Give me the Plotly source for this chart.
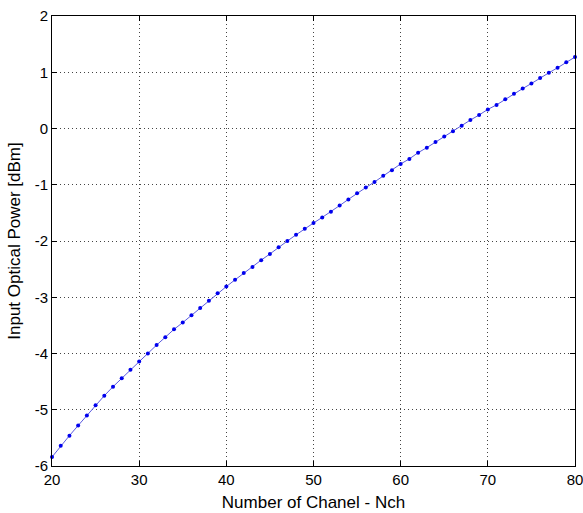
import plotly.graph_objects as go

nch = list(range(20, 81))
power_dbm = [
    -5.84, -5.64, -5.46, -5.28, -5.10, -4.92, -4.75, -4.59, -4.44, -4.29,
    -4.14, -4.00, -3.85, -3.71, -3.57, -3.45, -3.32, -3.19, -3.06, -2.93,
    -2.81, -2.69, -2.57, -2.46, -2.34, -2.23, -2.11, -2.00, -1.89, -1.78,
    -1.68, -1.58, -1.48, -1.37, -1.26, -1.15, -1.05, -0.95, -0.84, -0.74,
    -0.63, -0.54, -0.43, -0.34, -0.24, -0.14, -0.05, 0.05, 0.15, 0.24,
    0.34, 0.42, 0.52, 0.62, 0.71, 0.80, 0.90, 0.99, 1.08, 1.18, 1.27,
]
x_ticks = [20, 30, 40, 50, 60, 70, 80]
y_ticks = [-6, -5, -4, -3, -2, -1, 0, 1, 2]

FONT = "Liberation Sans, Arial"

fig = go.Figure()
fig.add_trace(go.Scatter(
    x=nch, y=power_dbm, mode="lines+markers",
    line=dict(color="#5a5ae0", width=1),
    marker=dict(color="#0000ee", size=4),
    showlegend=False, cliponaxis=False,
))

axis_common = dict(
    showline=True, linecolor="black", linewidth=1, mirror="ticks",
    ticks="inside", ticklen=5, tickcolor="black",
    showgrid=True, gridcolor="#444444", gridwidth=1, griddash="1px,3px",
    zeroline=False, automargin=False, ticklabeloverflow="allow",
    tickfont=dict(family=FONT, size=15, color="black"),
)

fig.update_layout(
    width=583, height=513,
    margin=dict(l=52, r=8, t=16, b=47),
    paper_bgcolor="white", plot_bgcolor="white",
    xaxis=dict(range=[20, 80], tickvals=x_ticks,
               ticktext=[str(v) for v in x_ticks],
               title=dict(text="Number of Chanel - Nch", standoff=9,
                          font=dict(family=FONT, size=17, color="black")),
               **axis_common),
    yaxis=dict(range=[-6, 2], tickvals=y_ticks,
               ticktext=[str(v) for v in y_ticks],
               title=dict(text="Input Optical Power [dBm]", standoff=9,
                          font=dict(family=FONT, size=17, color="black")),
               **axis_common),
)

fig.write_html(
    "out.html",
    config={"displayModeBar": False},
    post_script="document.body.style.margin='0';document.body.style.overflow='hidden';",
)
